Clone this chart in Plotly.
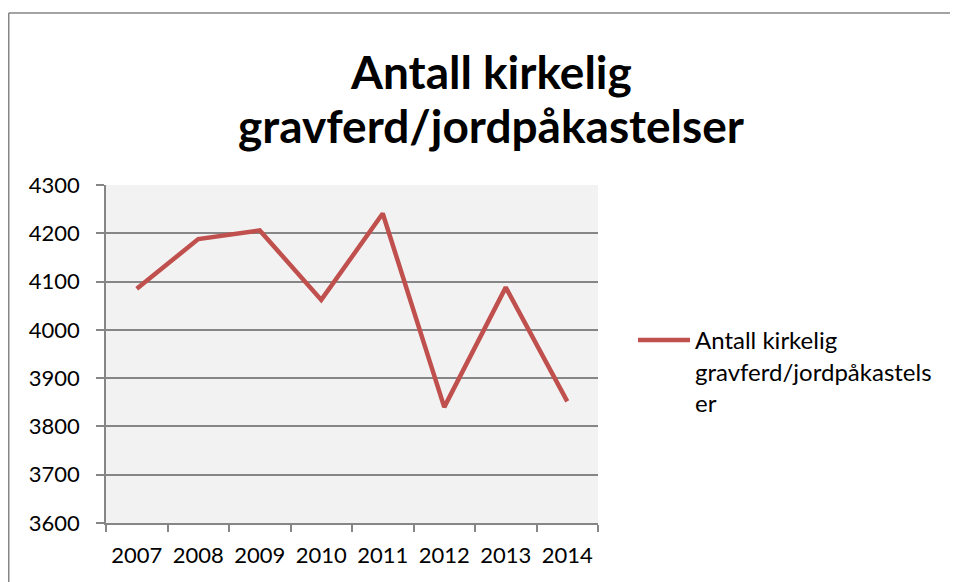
import plotly.graph_objects as go

years = ["2007", "2008", "2009", "2010", "2011", "2012", "2013", "2014"]
values = [4085, 4188, 4206, 4062, 4241, 3840, 4088, 3852]
series_name = "Antall kirkelig<br>gravferd/jordpåkastels<br>er"
title_lines = ["Antall kirkelig", "gravferd/jordpåkastelser"]
y_ticks = [3600, 3700, 3800, 3900, 4000, 4100, 4200, 4300]

# figure coordinates (page body adds an 8px offset)
W, H = 950, 574
L, R, T, B = 98, 590, 177, 515

fig = go.Figure()
fig.add_trace(go.Scatter(
    x=years, y=values, mode="lines", name=series_name,
    line=dict(color="#c0504d", width=4.5),
    showlegend=True,
))

def px_x(p):
    return (p - L) / (R - L)

def px_y(p):
    return (B - p) / (B - T)

annotations = []
for i, (txt, cy) in enumerate(zip(title_lines, [64, 117])):
    annotations.append(dict(
        text="<b>" + txt + "</b>", xref="paper", yref="paper",
        x=px_x(483), y=px_y(cy), xanchor="center", yanchor="middle",
        showarrow=False, font=dict(size=46, family="Lato, sans-serif", color="black"),
    ))

fig.update_layout(
    width=W, height=H,
    margin=dict(l=L, r=W - R, t=T, b=H - B, autoexpand=False),
    paper_bgcolor="white",
    plot_bgcolor="#f2f2f2",
    font=dict(family="Lato, sans-serif", color="black", size=22),
    showlegend=True,
    legend=dict(x=px_x(625), y=px_y(310), xanchor="left", yanchor="top",
                valign="top", font=dict(size=24), bgcolor="rgba(0,0,0,0)",
                itemwidth=52),
    xaxis=dict(type="category", range=[-0.5, 7.5], showgrid=False, showline=True,
               linecolor="#868686", linewidth=1.5, ticks="outside",
               tickson="boundaries", ticklen=7, tickcolor="#868686", tickwidth=1.5,
               zeroline=False, tickfont=dict(size=22), ticklabelstandoff=12),
    yaxis=dict(range=[3600, 4300], tickvals=y_ticks, showgrid=True,
               gridcolor="#868686", gridwidth=1.5, showline=True,
               linecolor="#868686", linewidth=1.5, ticks="outside", ticklen=8,
               tickcolor="#868686", tickwidth=1.5, zeroline=False,
               tickfont=dict(size=22), ticklabelstandoff=12),
    annotations=annotations,
    shapes=[
        dict(type="line", xref="paper", yref="paper", x0=px_x(0.75), x1=px_x(1000),
             y0=px_y(5), y1=px_y(5), line=dict(color="#868686", width=1.5)),
        dict(type="line", xref="paper", yref="paper", x0=px_x(0.75), x1=px_x(0.75),
             y0=px_y(5), y1=px_y(700), line=dict(color="#868686", width=1.5)),
    ],
)

fig.write_html("out.html")
